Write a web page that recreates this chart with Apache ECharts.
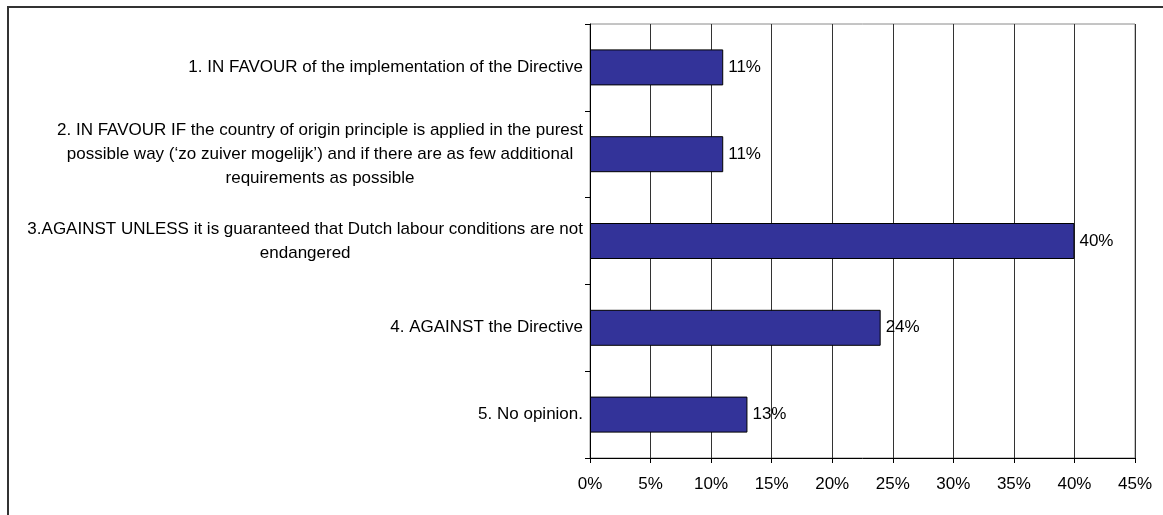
<!DOCTYPE html>
<html>
<head>
<meta charset="utf-8">
<script src="https://cdn.jsdelivr.net/npm/echarts@6/dist/echarts.min.js"></script>
<style>
html,body{margin:0;padding:0;background:#fff;}
#chart{width:1163px;height:515px;}
</style>
</head>
<body>
<div id="chart"></div>
<script>
const categories = [
  "1. IN FAVOUR of the implementation of the Directive",
  "2. IN FAVOUR IF the country of origin principle is applied in the purest\npossible way (\u2018zo zuiver mogelijk\u2019) and if there are as few additional\nrequirements as possible",
  "3.AGAINST UNLESS it is guaranteed that Dutch labour conditions are not\nendangered",
  "4. AGAINST the Directive",
  "5. No opinion."
];
const values = [11, 11, 40, 24, 13];
const xTicks = { min: 0, max: 45, interval: 5 };

const chart = echarts.init(document.getElementById('chart'));
const font = 'Liberation Sans, Arial, sans-serif';
chart.setOption({
  animation: false,
  backgroundColor: '#fff',
  graphic: [{
    type: 'rect',
    shape: { x: 8, y: 7, width: 1300, height: 700 },
    style: { fill: 'none', stroke: '#333', lineWidth: 2 },
    silent: true
  }],
  grid: {
    left: 590, right: 28, top: 24, bottom: 57,
    show: true, borderColor: '#8a8a8a', borderWidth: 1
  },
  xAxis: {
    type: 'value',
    min: xTicks.min, max: xTicks.max, interval: xTicks.interval,
    axisLine: { show: true, lineStyle: { color: '#000', width: 1 } },
    axisTick: { show: true, length: 5, lineStyle: { color: '#000' } },
    axisLabel: { formatter: '{value}%', color: '#000', fontFamily: font, fontSize: 17, margin: 18 },
    splitLine: { show: true, lineStyle: { color: '#333', width: 1 } }
  },
  yAxis: {
    type: 'category',
    inverse: true,
    data: categories,
    axisLine: { show: true, lineStyle: { color: '#000', width: 1 } },
    axisTick: { show: true, length: 5, alignWithLabel: false, lineStyle: { color: '#000' } },
    axisLabel: {
      color: '#000', fontFamily: font, fontSize: 17, lineHeight: 24, align: 'right', margin: 7,
      formatter: function (v) {
        return v.split('\n').map(function (l) { return '{c|' + l + '}'; }).join('\n');
      },
      rich: {
        c: { align: 'center', color: '#000', fontFamily: font, fontSize: 17, lineHeight: 24 }
      }
    },
    splitLine: { show: false }
  },
  series: [{
    type: 'bar',
    data: values,
    barWidth: 36,
    itemStyle: { color: '#333399', borderColor: '#000', borderWidth: 1 },
    label: {
      show: true, position: 'right', distance: 5,
      formatter: '{c}%', color: '#000', fontFamily: font, fontSize: 17
    }
  }]
});
</script>
</body>
</html>
